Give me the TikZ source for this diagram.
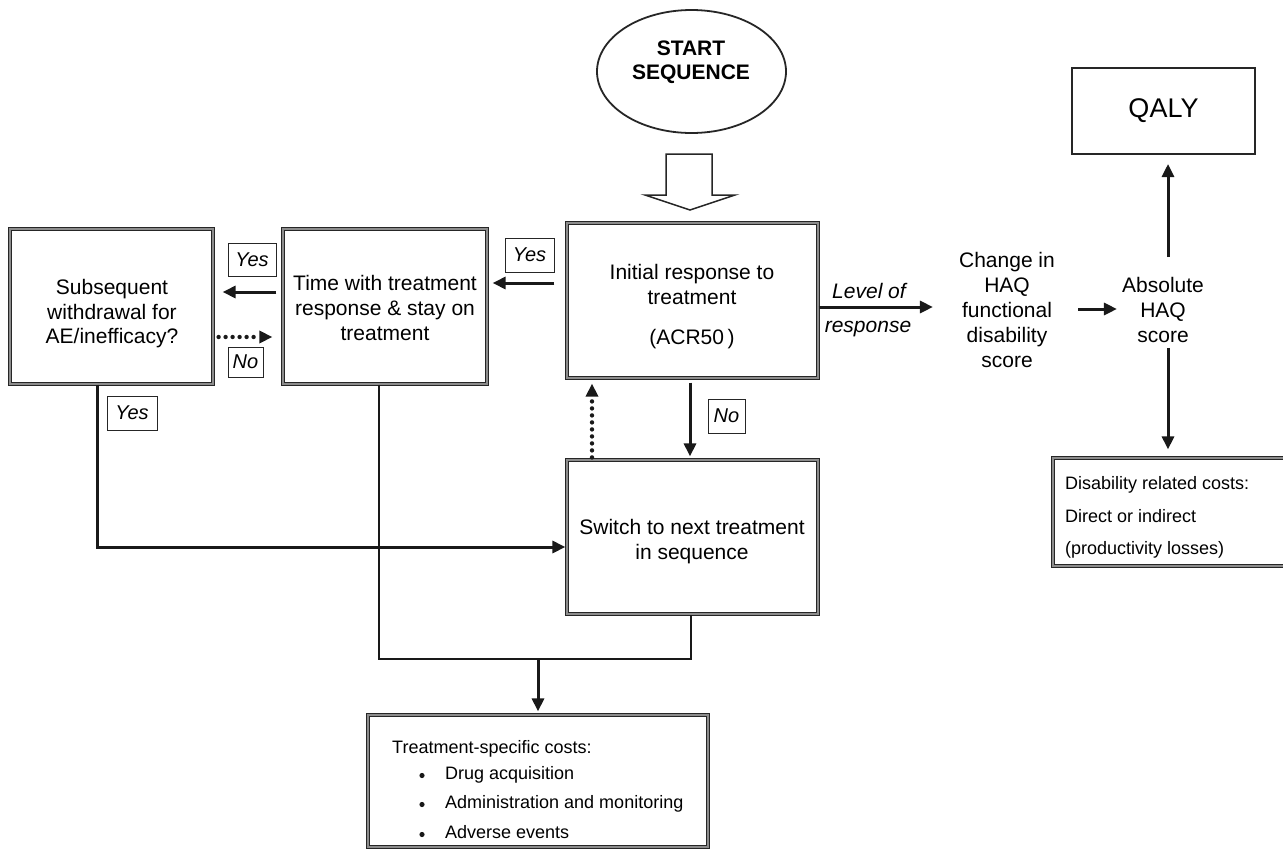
\documentclass[tikz,border=0pt]{standalone}
\usepackage{fontspec}
\setmainfont{Liberation Sans}
\usetikzlibrary{arrows.meta,shapes.geometric}
\tikzset{
 dbox/.style={draw=black!85, line width=1.2pt, double=black!45, double distance=1.8pt, inner sep=0pt},
 txt/.style={align=center, inner sep=0pt, font=\fontsize{21}{25}\selectfont},
 lab/.style={draw=black!85, line width=1pt, inner sep=0pt, minimum height=33pt, font=\fontsize{20}{24}\selectfont\itshape},
 arr/.style={line width=3pt, draw=black!90, -{Triangle[length=13pt,width=12pt]}},
 thinline/.style={line width=1.4pt, draw=black!90},
 dotarr/.style={line width=4.4pt, draw=black!90, dash pattern=on 0pt off 7pt, line cap=round, -{Triangle[length=13pt,width=12pt]}},
 small/.style={inner sep=0pt, anchor=base west, font=\fontsize{18}{22}\selectfont},
}
\begin{document}
\begin{tikzpicture}[x=1pt,y=-1pt]
\useasboundingbox (0,0) rectangle (1283,849);
\clip (0,0) rectangle (1283,849);

% start
\node[ellipse, draw=black!85, line width=1.8pt, minimum width=189pt, minimum height=123pt, inner sep=0pt] (start) at (691.5,71.5) {};
\node[txt, font=\fontsize{21}{24}\selectfont\bfseries] (starttxt) at (691,62) {START\\SEQUENCE};
\draw[line width=1.5pt, draw=black!85, fill=white] (666,154) -- (712,154) -- (712,195) -- (735,195) -- (690,210) -- (645,195) -- (666,195) -- cycle;

% boxes
\node[dbox, minimum width=203pt, minimum height=155pt] (left) at (111.5,306.5) {};
\node[txt, font=\fontsize{21}{24.5}\selectfont] (lefttxt) at (112,314) {Subsequent\\withdrawal for\\AE/inefficacy?};
\node[dbox, minimum width=204pt, minimum height=155pt] (mid) at (385,306.5) {};
\node[txt] (midtxt) at (385,307.5) {Time with treatment\\response \& stay on\\treatment};
\node[dbox, minimum width=251pt, minimum height=155pt] (init) at (692.5,300.5) {};
\node[txt] (inittxt) at (692,306.5) {Initial response to\\treatment\\[15pt](ACR50\,)};
\node[dbox, minimum width=251pt, minimum height=154pt] (switch) at (692.5,537) {};
\node[txt] (switchtxt) at (692,541.5) {Switch to next treatment\\in sequence};

\node[draw=black!85, line width=2pt, minimum width=183pt, minimum height=86pt, inner sep=0pt, font=\fontsize{27}{30}\selectfont] (qaly) at (1163.5,111) {QALY};
\node[txt] (change) at (1007,310) {Change in\\HAQ\\functional\\disability\\score};
\node[txt] (abs) at (1163,310) {Absolute\\HAQ\\score};

\node[dbox, minimum width=247pt, minimum height=108pt] (disab) at (1176.5,512) {};
\node[small] (dis1) at (1065,489.4) {Disability related costs:};
\node[small] (dis2) at (1065,522.4) {Direct or indirect};
\node[small] (dis3) at (1065,554.4) {(productivity losses)};

\node[dbox, minimum width=340pt, minimum height=132pt] (costs) at (538,781) {};
\node[small] (c0) at (392,753.5) {Treatment-specific costs:};
\node[small] (c1) at (445,779.5) {Drug acquisition};
\node[small] (c2) at (445,808.5) {Administration and monitoring};
\node[small] (c3) at (445,838.5) {Adverse events};
\fill[black!90] (422,775.5) circle (2.6) (422,804.5) circle (2.6) (422,834.5) circle (2.6);

% labels
\node[lab, minimum width=48pt] (yes1) at (252,259.5) {Yes};
\node[lab, minimum width=35pt, minimum height=30pt] (no1) at (245.5,362) {No};
\node[lab, minimum width=49pt, minimum height=34pt] (yes2) at (529.5,255) {Yes};
\node[lab, minimum width=37pt, minimum height=34pt] (no2) at (726.5,416) {No};
\node[lab, minimum width=50pt, minimum height=34pt] (yes3) at (132,413) {Yes};
\node[inner sep=0pt, anchor=base, font=\fontsize{21}{25}\selectfont\itshape] (lvl1) at (869,298.5) {Level of};
\node[inner sep=0pt, anchor=base, font=\fontsize{21}{25}\selectfont\itshape] (lvl2) at (868,332.5) {response};

% connectors
\draw[arr, shorten <=12pt, shorten >=5pt] ([yshift=17.5pt]init.west) -- ([yshift=23.5pt]mid.east);
\draw[arr, shorten <=6pt, shorten >=9pt] ([yshift=14.5pt]mid.west) -- ([yshift=14.5pt]left.east);
\draw[dotarr, shorten <=5pt, shorten >=10pt] ([yshift=-30.5pt]left.east) -- ([yshift=-30.5pt]mid.west);
\draw[arr, shorten <=4pt, shorten >=3pt] ([xshift=-2.5pt]init.south) -- ([xshift=-2.5pt]switch.north);
\draw[dotarr, shorten <=2pt, shorten >=5pt] ([xshift=-100.5pt]switch.north) -- ([xshift=-100.5pt]init.south);
\draw[arr, shorten >=1pt] ([xshift=-14.5pt]left.south) |- ([yshift=-10pt]switch.west);
\coordinate (j) at (538,659);
\draw[thinline] ([xshift=-6pt]mid.south) |- (j) -| ([xshift=-1.5pt]switch.south);
\draw[arr, shorten >=3pt] (j) -- (costs.north);

\draw[arr, shorten >=26pt] ([yshift=-6.5pt]init.east) -- ([yshift=3pt]change.west);
\draw[arr, shorten <=23pt, shorten >=5pt] ([yshift=1pt]change.east) -- ([yshift=1pt]abs.west);
\draw[arr, shorten <=20pt, shorten >=9pt] ([xshift=5pt]abs.north) -- ([xshift=4.5pt]qaly.south);
\draw[arr, shorten <=5pt, shorten >=8pt] ([xshift=5pt]abs.south) -- ([xshift=-8.5pt]disab.north);
\end{tikzpicture}
\end{document}
